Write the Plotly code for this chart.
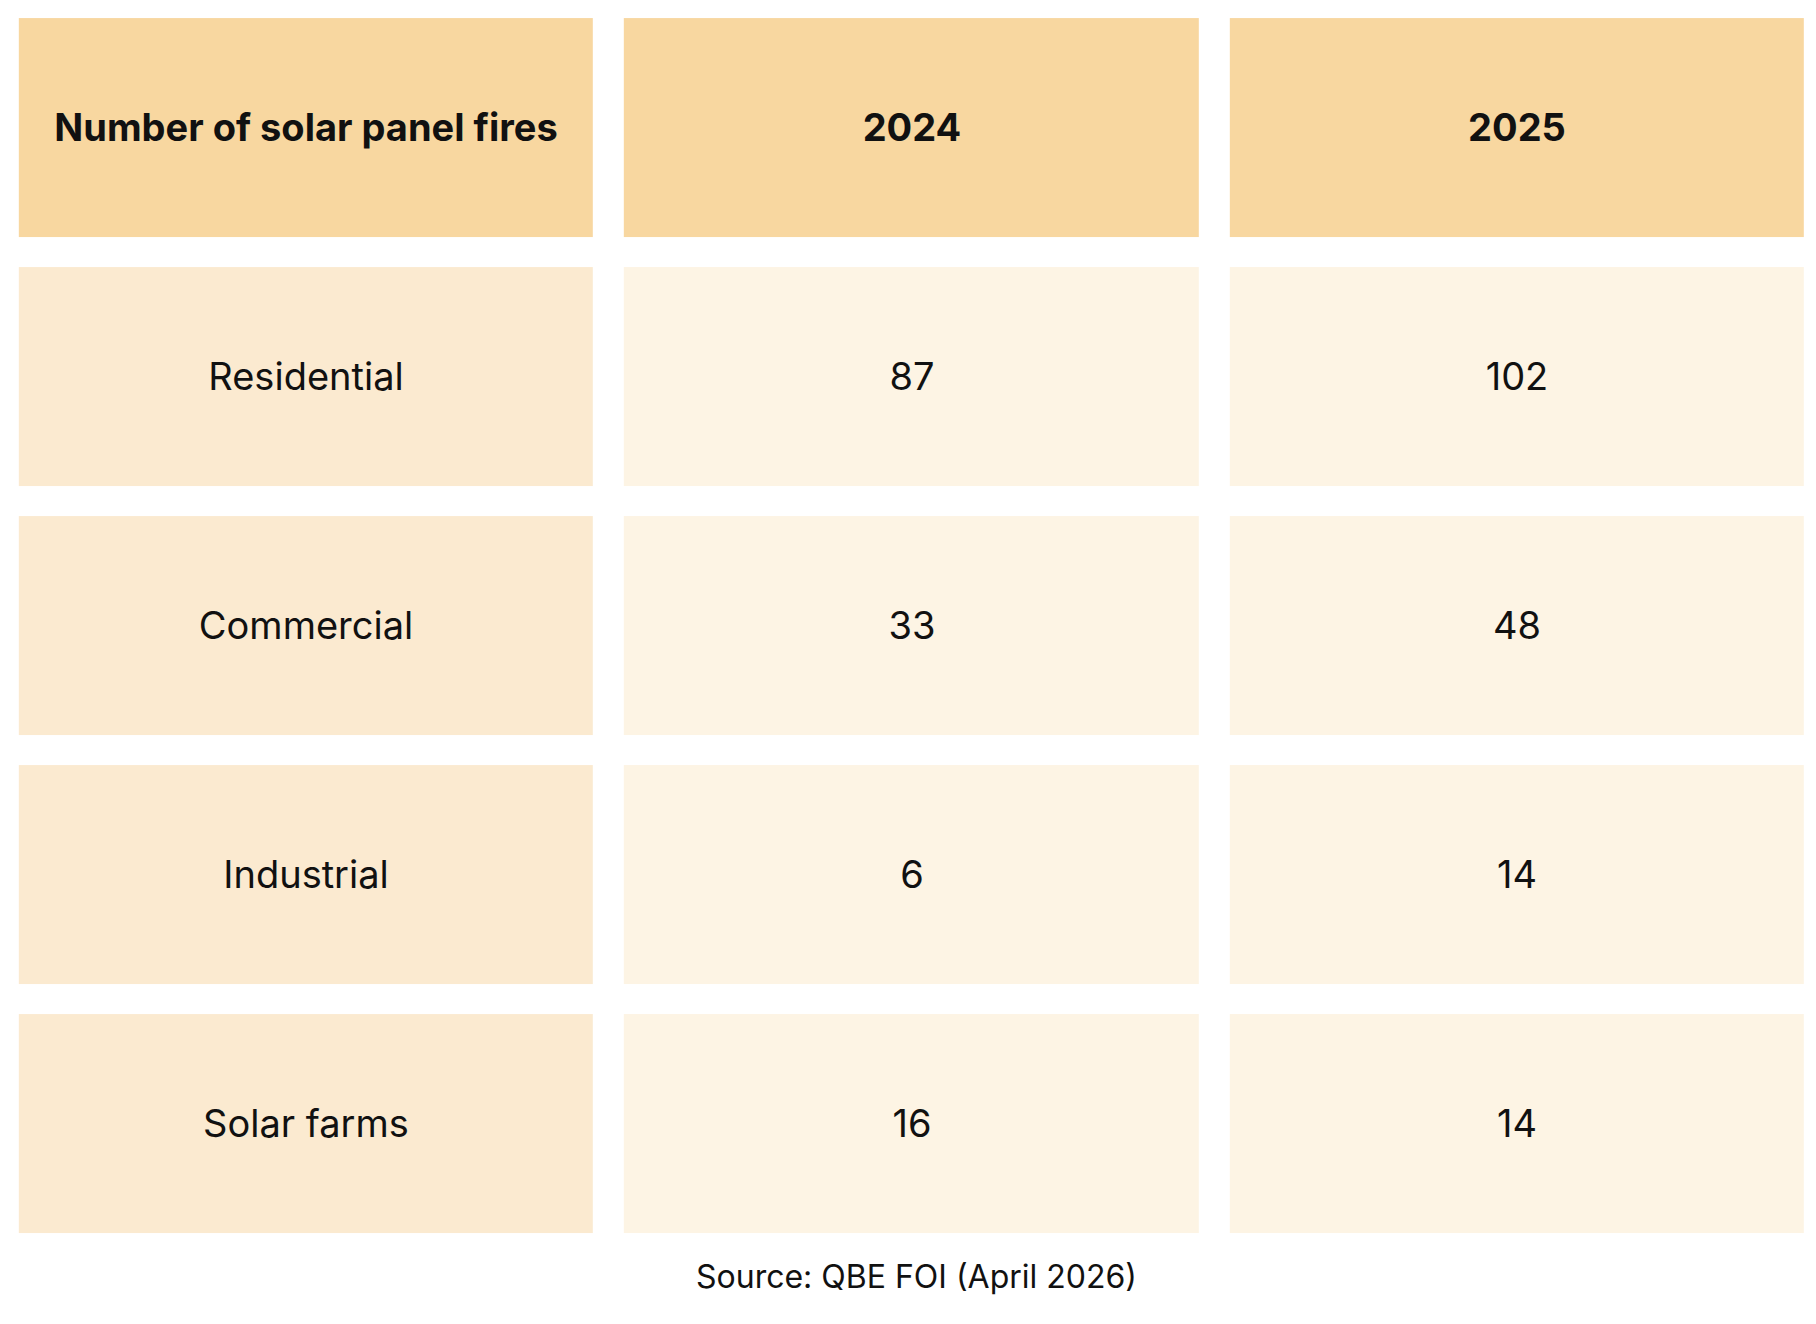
import plotly.graph_objects as go

header = ["Number of solar panel fires", "2024", "2025"]
categories = ["Residential", "Commercial", "Industrial", "Solar farms"]
fires_2024 = [87, 33, 6, 16]
fires_2025 = [102, 48, 14, 14]
source = "Source: QBE FOI (April 2026)"

# build grid: row 0 = header, col 0 = labels
rows = [[f"<b>{h}</b>" for h in header]]
kind = [[2, 2, 2]]
for c, a, b in zip(categories, fires_2024, fires_2025):
    rows.append([c, str(a), str(b)])
    kind.append([1, 0, 0])

n = len(rows)
fig = go.Figure(go.Heatmap(
    z=kind, text=rows, texttemplate="%{text}",
    textfont={"size": 38, "color": "#111111", "family": "Inter"},
    x=[0, 1, 2], y=list(range(n)),
    colorscale=[[0, "#FDF4E4"], [0.5, "#FBEAD0"], [1, "#F8D7A0"]],
    zmin=0, zmax=2, showscale=False, xgap=31, ygap=30, hoverinfo="skip"))

fig.update_xaxes(visible=False, range=[-0.493, 2.507])
fig.update_yaxes(visible=False, range=[n - 0.5 + 0.02, -0.5 + 0.02])
fig.add_annotation(text=source, xref="paper", yref="paper", x=0.5, y=-0.002,
                   yanchor="top", showarrow=False,
                   font={"size": 32, "color": "#111111", "family": "Inter"})
fig.update_layout(width=1816, height=1324, paper_bgcolor="white", plot_bgcolor="white",
                  margin={"l": 0, "r": 0, "t": 0, "b": 79}, font={"family": "Inter"})
fig.write_html("out.html")
